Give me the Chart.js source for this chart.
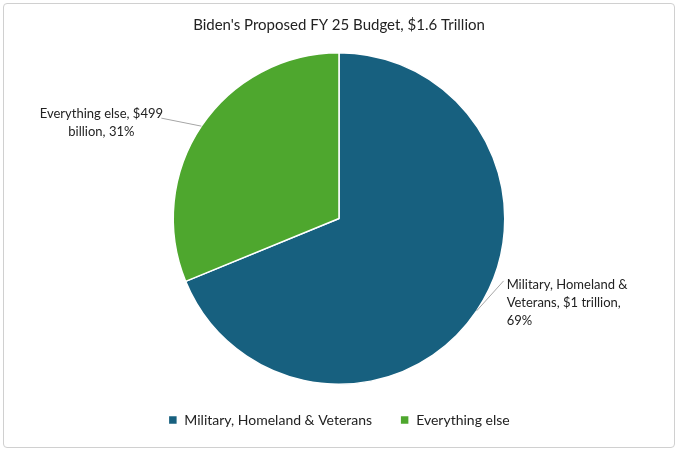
<!DOCTYPE html>
<html><head><meta charset="utf-8">
<script src="https://cdn.jsdelivr.net/npm/chart.js@4"></script>
<style>
html,body{margin:0;padding:0;background:#fff;}
#wrap{position:absolute;left:3px;top:3px;width:672px;height:445px;border:1px solid #d0d0d0;border-radius:4px;box-sizing:border-box;}
</style></head><body>
<div id="wrap"><canvas id="c"></canvas></div>
<script>
const categories = ["Military, Homeland & Veterans", "Everything else"];
const values = [1101, 499];
const pointLabels = [["Military, Homeland &", "Veterans, $1 trillion,", "69%"], ["Everything else, $499", "billion, 31%"]];
const colors = ["#17607f", "#4ea72e"];
const FONT = "Lato, 'Open Sans', sans-serif";

const labelPlugin = {
  id: 'lbl',
  afterDatasetsDraw(chart) {
    const ctx = chart.ctx;
    const meta = chart.getDatasetMeta(0);
    ctx.save();
    ctx.font = "13px " + FONT;
    ctx.fillStyle = "#222";
    ctx.textBaseline = "middle";
    meta.data.forEach((arc, i) => {
      const mid = (arc.startAngle + arc.endAngle) / 2;
      const r = arc.outerRadius;
      const ax = arc.x + Math.cos(mid) * r, ay = arc.y + Math.sin(mid) * r;
      const lines = pointLabels[i];
      let tx, ty, lx, ly;
      if (Math.cos(mid) > 0) {
        ctx.textAlign = "left";
        tx = ax + 30; ty = ay - 26; lx = tx - 3; ly = ty - 4;
      } else {
        ctx.textAlign = "center";
        tx = ax - 100; ty = ay - 12; lx = ax - 40; ly = ay - 8;
      }
      ctx.strokeStyle = "#a6a6a6"; ctx.lineWidth = 1;
      ctx.beginPath(); ctx.moveTo(ax, ay); ctx.lineTo(lx, ly); ctx.stroke();
      lines.forEach((t, k) => ctx.fillText(t, tx, ty + k * 18));
    });
    ctx.restore();
  }
};

new Chart(document.getElementById('c'), {
  type: 'pie',
  data: { labels: categories, datasets: [{ data: values, backgroundColor: colors, borderColor: "#fff", borderWidth: 1.5 }] },
  options: {
    responsive: true, maintainAspectRatio: false, animation: false,
    layout: { padding: { top: 20, bottom: 10 } },
    plugins: {
      title: { display: true, text: "Biden's Proposed FY 25 Budget, $1.6 Trillion", color: "#222", font: { family: FONT, size: 15, weight: 'normal' }, padding: { top: -8, bottom: 18 } },
      legend: { position: 'bottom', labels: { color: "#222", font: { family: FONT, size: 14 }, boxWidth: 9, boxHeight: 9, padding: 28 } },
      tooltip: { enabled: false }
    }
  },
  plugins: [labelPlugin]
});
</script>
</body></html>
